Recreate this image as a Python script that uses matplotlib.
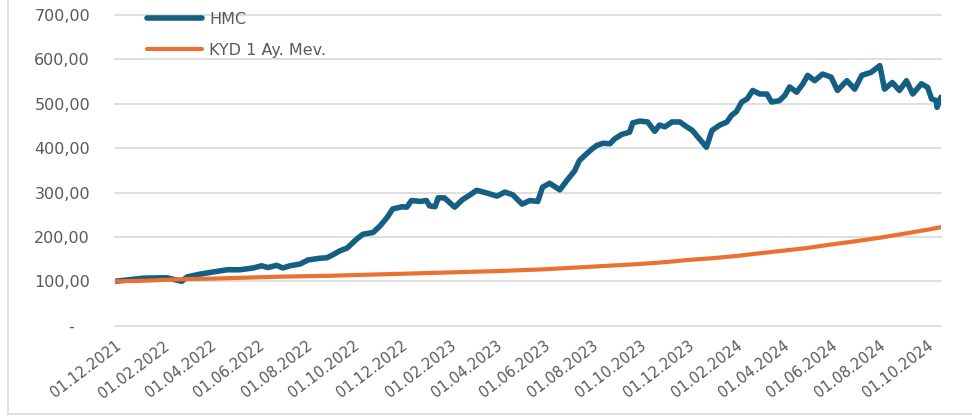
import datetime as dt

import matplotlib
matplotlib.use("Agg")
import matplotlib.dates as mdates
import matplotlib.pyplot as plt
from matplotlib.lines import Line2D

# HMC fund index, days since 01.12.2021
hmc_days = [0, 36, 66, 85, 92, 108, 125, 143, 159, 176, 187, 195, 206, 214, 223,
            236, 246, 261, 270, 278, 287, 296, 302, 308, 316, 329, 338, 347, 354,
            366, 372, 378, 389, 397, 401, 408, 412, 420, 433, 443, 452, 461, 474,
            487, 497, 507, 519, 529, 539, 545, 554, 567, 576, 586, 592, 601, 608,
            614, 622, 631, 637, 646, 656, 660, 669, 679, 688, 694, 701, 710, 720,
            729, 736, 745, 754, 761, 771, 780, 786, 792, 799, 806, 813, 822, 831,
            837, 847, 854, 860, 869, 877, 883, 892, 902, 913, 921, 933, 943, 952,
            964, 975, 981, 991, 1000, 1009, 1017, 1028, 1036, 1041, 1047, 1048, 1053]
hmc_vals = [100, 107, 108, 100, 110, 116, 121, 126, 126, 130, 135, 131, 136, 130, 135,
            139, 148, 152, 153, 160, 169, 175, 185, 195, 206, 210, 225, 244, 263,
            268, 267, 282, 280, 282, 270, 268, 288, 288, 267, 284, 294, 305, 299,
            292, 301, 295, 274, 282, 280, 312, 321, 306, 327, 349, 372, 387, 398,
            406, 411, 410, 421, 431, 436, 457, 461, 459, 438, 452, 448, 459, 459,
            448, 440, 421, 402, 440, 452, 459, 474, 482, 504, 511, 530, 522, 522,
            504, 507, 519, 538, 526, 545, 564, 552, 567, 560, 530, 552, 533, 564,
            571, 586, 533, 548, 530, 552, 522, 545, 537, 511, 507, 492, 515]

# KYD 1 month deposit index, month starts from 12.2021, last point 19.10.2024
kyd_vals = [100, 101, 103, 105, 106, 107.5, 109, 110.5, 111.5, 112.5, 114, 115.5,
            117, 118.5, 120, 121.5, 123, 125, 127, 130, 133, 136, 139, 143,
            148, 152, 157, 163, 169, 175, 183, 190, 198, 207, 216, 222]

start = dt.date(2021, 12, 1)
end = start + dt.timedelta(days=1053)
hmc_dates = [start + dt.timedelta(days=d) for d in hmc_days]
kyd_dates = [dt.date(2021 + (11 + m) // 12, (11 + m) % 12 + 1, 1) for m in range(35)] + [end]
tick_dates = [dt.date(2021 + (11 + m) // 12, (11 + m) % 12 + 1, 1) for m in range(0, 35, 2)]

gray = "#595959"
grid_c = "#D9D9D9"

fig = plt.figure(figsize=(9.72, 4.17), dpi=100)
ax = fig.add_axes([115 / 972, 1 - 325.7 / 417, 826 / 972, 310.7 / 417])

ax.plot(hmc_dates, hmc_vals, color="#156082", lw=4.0, solid_capstyle="round",
        solid_joinstyle="round", label="HMC")
ax.plot(kyd_dates, kyd_vals, color="#E97132", lw=3.0, solid_capstyle="round",
        label="KYD 1 Ay. Mev.")

ax.set_xlim(start, end)
ax.set_ylim(0, 700)
ax.set_yticks(range(0, 701, 100))
ax.set_yticklabels(["-   "] + [f"{v},00" for v in range(100, 701, 100)])
ax.set_xticks(tick_dates)
ax.xaxis.set_major_formatter(mdates.DateFormatter("%d.%m.%Y"))

ax.tick_params(axis="y", length=0, pad=18, labelsize=11.5, labelcolor=gray)
ax.tick_params(axis="x", length=0, pad=9, labelsize=10.5, labelcolor=gray)
for lab in ax.get_xticklabels():
    lab.set_rotation(37)
    lab.set_ha("right")
    lab.set_va("top")
    lab.set_rotation_mode("anchor")

ax.grid(axis="y", color=grid_c, lw=1.2)
for gl in ax.get_ygridlines():
    gl.set_clip_on(False)
ax.set_axisbelow(True)
for s in ax.spines.values():
    s.set_visible(False)

ax.legend(loc="upper left", bbox_to_anchor=(0.0387, 1.01), frameon=False,
          fontsize=11.5, labelcolor=gray, handlelength=3.45, handletextpad=0.45,
          labelspacing=1.0, borderpad=0, borderaxespad=0)

# chart area border (left and bottom visible)
fig.add_artist(Line2D([8 / 972, 8 / 972], [1 - 414 / 417, 1.0], color=grid_c, lw=1.2))
fig.add_artist(Line2D([8 / 972, 1.0], [1 - 414 / 417, 1 - 414 / 417], color=grid_c, lw=1.2))

fig.savefig("out.png", dpi=100)
